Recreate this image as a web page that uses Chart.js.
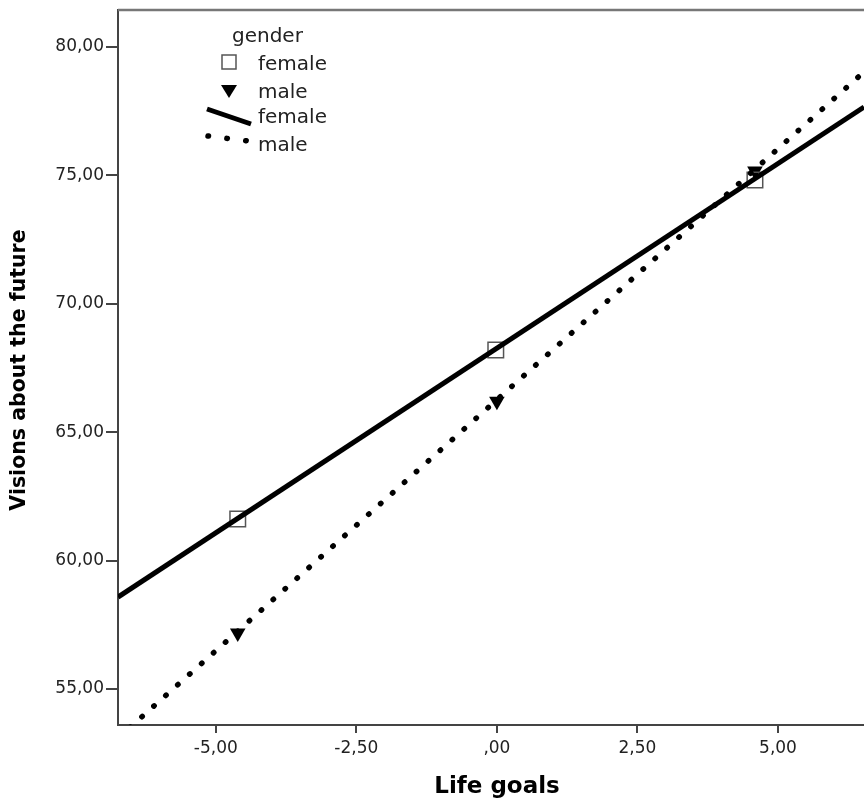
<!DOCTYPE html>
<html>
<head>
<meta charset="utf-8">
<script src="https://cdn.jsdelivr.net/npm/chart.js@4.4.0/dist/chart.umd.min.js"></script>
<style>
  html, body { margin: 0; padding: 0; background: #fff; overflow: hidden; }
  #wrap { width: 864px; height: 801px; position: relative; }
  #plot { display: block; }
</style>
</head>
<body>
<div id="wrap"><canvas id="plot"></canvas></div>
<script>
// values
const legendTitle = 'gender';
const groups = ['female', 'male'];
const xTitle = 'Life goals';
const yTitle = 'Visions about the future';

const femaleX = [-4.61, -0.02, 4.59];
const femaleY = [61.62, 68.2, 74.82];
const maleX = [-4.61, 0.0, 4.59];
const maleY = [57.18, 66.21, 75.17];

// fit lines, given at the two ends of the x range
const fitX = [-6.74, 6.53];
const femaleFit = [58.58, 77.66];
const maleFit = [53.09, 79.03];

const xTicks = [-5, -2.5, 0, 2.5, 5];
const yTicks = [55, 60, 65, 70, 75, 80];
const xRange = [-6.74, 6.53];
const yRange = [53.6, 81.44];

function fmt(v) {
    return v.toFixed(2).replace('.', ',').replace(/^0,/, ',');
}
function pts(xs, ys) {
    return xs.map((x, i) => ({ x: x, y: ys[i] }));
}

const solidStyle = { borderColor: '#000', borderWidth: 5 };
const dotStyle = { borderColor: '#000', borderWidth: 5.5, borderDash: [0.5, 15.5], borderCapStyle: 'round' };

// frame top line, axis titles and the legend box
const decor = {
    id: 'decor',
    afterDraw(chart) {
        const ctx = chart.ctx;
        const a = chart.chartArea;
        ctx.save();
        ctx.strokeStyle = '#777';
        ctx.lineWidth = 2.5;
        ctx.beginPath();
        ctx.moveTo(a.left, a.top);
        ctx.lineTo(a.right, a.top);
        ctx.stroke();

        ctx.fillStyle = '#000';
        ctx.textAlign = 'center';
        ctx.textBaseline = 'middle';
        ctx.font = 'bold 23px "DejaVu Sans"';
        ctx.fillText(xTitle, 497, 787);
        ctx.save();
        ctx.translate(20, 370);
        ctx.rotate(-Math.PI / 2);
        ctx.font = 'bold 20.5px "DejaVu Sans"';
        ctx.fillText(yTitle, 0, 0);
        ctx.restore();

        // legend
        ctx.fillStyle = '#222';
        ctx.textAlign = 'left';
        ctx.font = '20px "DejaVu Sans"';
        ctx.fillText(legendTitle, 232, 37);
        ctx.fillText(groups[0], 258, 65);
        ctx.fillText(groups[1], 258, 93);
        ctx.fillText(groups[0], 258, 118);
        ctx.fillText(groups[1], 258, 146);

        ctx.strokeStyle = '#555';
        ctx.lineWidth = 1.5;
        ctx.strokeRect(222, 55, 14, 14);

        ctx.fillStyle = '#000';
        ctx.beginPath();
        ctx.moveTo(221, 85);
        ctx.lineTo(237, 85);
        ctx.lineTo(229, 98);
        ctx.closePath();
        ctx.fill();

        ctx.strokeStyle = '#000';
        ctx.lineWidth = 5;
        ctx.beginPath();
        ctx.moveTo(207, 109);
        ctx.lineTo(251, 124);
        ctx.stroke();

        ctx.lineWidth = 5.5;
        ctx.lineCap = 'round';
        ctx.setLineDash([0.5, 18.5]);
        ctx.beginPath();
        ctx.moveTo(208, 136);
        ctx.lineTo(248, 141);
        ctx.stroke();
        ctx.restore();
    }
};

const axisCommon = {
    grid: { display: true, drawOnChartArea: false, drawTicks: true, color: '#444', lineWidth: 2 },
    border: { display: true, color: '#444', width: 2 }
};

new Chart(document.getElementById('plot'), {
    type: 'scatter',
    data: {
        datasets: [{
            label: groups[0] + ' fit',
            data: pts(fitX, femaleFit),
            showLine: true,
            pointRadius: 0,
            ...solidStyle
        }, {
            label: groups[1] + ' fit',
            data: pts(fitX, maleFit),
            showLine: true,
            pointRadius: 0,
            ...dotStyle
        }, {
            label: groups[0],
            data: pts(femaleX, femaleY),
            pointStyle: 'rect',
            pointRadius: 11,
            pointBorderWidth: 1.5,
            pointBorderColor: '#555',
            pointBackgroundColor: 'rgba(0,0,0,0)'
        }, {
            label: groups[1],
            data: pts(maleX, maleY),
            pointStyle: 'triangle',
            pointRotation: 180,
            pointRadius: 9,
            pointBorderWidth: 0,
            pointBackgroundColor: '#000'
        }]
    },
    options: {
        responsive: true,
        maintainAspectRatio: false,
        animation: false,
        layout: { autoPadding: false, padding: { top: 10, right: 0, left: 0, bottom: 0 } },
        plugins: {
            legend: { display: false },
            tooltip: { enabled: false }
        },
        scales: {
            x: {
                type: 'linear',
                min: xRange[0],
                max: xRange[1],
                ...axisCommon,
                grid: { ...axisCommon.grid, tickLength: 8 },
                ticks: {
                    color: '#222',
                    font: { family: 'DejaVu Sans', size: 17 },
                    padding: 5,
                    maxRotation: 0,
                    callback: v => fmt(v)
                },
                afterBuildTicks: s => { s.ticks = xTicks.map(v => ({ value: v })); },
                afterFit: s => { s.height = 76; s.paddingLeft = 0; s.paddingRight = 0; }
            },
            y: {
                type: 'linear',
                min: yRange[0],
                max: yRange[1],
                ...axisCommon,
                grid: { ...axisCommon.grid, tickLength: 12 },
                ticks: {
                    color: '#222',
                    font: { family: 'DejaVu Sans', size: 17 },
                    padding: 2,
                    callback: v => fmt(v)
                },
                afterBuildTicks: s => { s.ticks = yTicks.map(v => ({ value: v })); },
                afterFit: s => { s.width = 118; s.paddingTop = 0; s.paddingBottom = 0; }
            }
        }
    },
    plugins: [decor]
});
</script>
</body>
</html>
